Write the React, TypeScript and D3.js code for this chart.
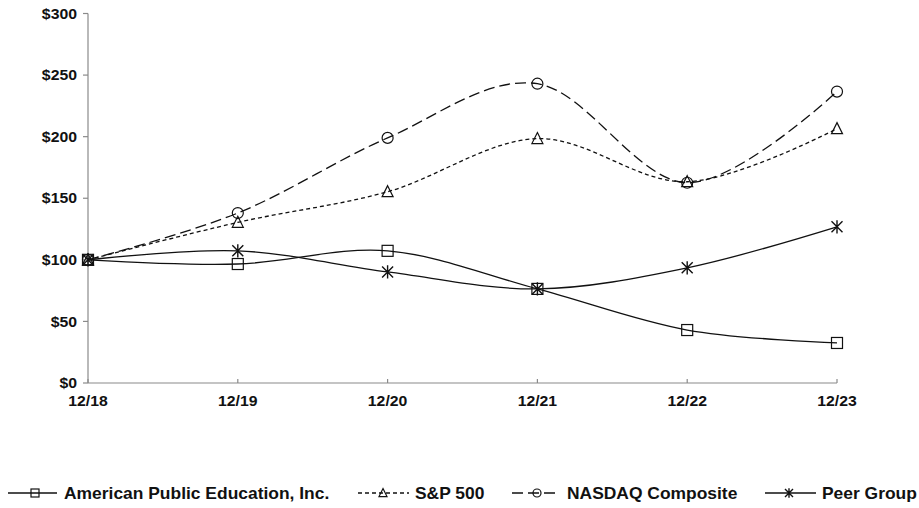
import React from 'react';
import * as d3 from 'd3';

const categories = ['12/18', '12/19', '12/20', '12/21', '12/22', '12/23'];
const apei = [100, 96.6, 107.3, 76.4, 43.0, 32.5];
const sp500 = [100, 130.4, 155.3, 198.4, 163.4, 206.5];
const nasdaq = [100, 138.0, 199.0, 243.0, 162.6, 236.6];
const peer = [100, 107.3, 90.2, 76.4, 93.5, 126.8];
const yTicks = [0, 50, 100, 150, 200, 250, 300];

const seriesNames = ['American Public Education, Inc.', 'S&P 500', 'NASDAQ Composite', 'Peer Group'];
const seriesValues = [apei, sp500, nasdaq, peer];

const W = 919;
const H = 508;
const FONT = '"Liberation Sans", Arial, sans-serif';
const STRETCH = 1.09;

type Style = { dash: string; marker: 'square' | 'triangle' | 'circle' | 'star' };
const styles: Style[] = [
  { dash: '', marker: 'square' },
  { dash: '4,3', marker: 'triangle' },
  { dash: '11,5', marker: 'circle' },
  { dash: '', marker: 'star' },
];

const legendLayout = [
  { x1: 8, x2: 57, mx: 35, tx: 64 },
  { x1: 358, x2: 409, mx: 383, tx: 415 },
  { x1: 512, x2: 560, mx: 537, tx: 567 },
  { x1: 765, x2: 816, mx: 789, tx: 822 },
];

function Marker({ kind, cx, cy, s }: { kind: Style['marker']; cx: number; cy: number; s: number }) {
  const common = { fill: 'none', stroke: '#111', strokeWidth: 1.2 };
  if (kind === 'square') return <rect x={cx - s} y={cy - s} width={2 * s} height={2 * s} {...common} />;
  if (kind === 'circle') return <circle cx={cx} cy={cy} r={s} {...common} />;
  if (kind === 'triangle') {
    const p = `M${cx},${cy - s * 1.1} L${cx + s},${cy + s * 0.9} L${cx - s},${cy + s * 0.9} Z`;
    return <path d={p} {...common} />;
  }
  const d = `M${cx - s},${cy - s}L${cx + s},${cy + s}M${cx - s},${cy + s}L${cx + s},${cy - s}M${cx},${cy - s * 1.2}L${cx},${cy + s * 1.2}`;
  return <path d={d} {...common} strokeWidth={1.4} />;
}

export default function App() {
  const x = d3.scalePoint<string>().domain(categories).range([88, 837]);
  const y = d3.scaleLinear().domain([0, 300]).range([383, 13.5]);
  const line = d3
    .line<number>()
    .x((_, i) => x(categories[i]) as number)
    .y((v) => y(v))
    .curve(d3.curveCardinal.tension(0));

  const textStyle = { fontFamily: FONT, fontWeight: 700, fill: '#111' } as const;

  return (
    <div style={{ position: 'absolute', left: 0, top: 0 }}>
      <svg width={W} height={H} style={{ display: 'block', background: '#fff' }}>
        <rect x={0} y={0} width={W} height={H} fill="#fff" />
        {/* axes */}
        <g stroke="#8a8a8a" strokeWidth={1.2} fill="none">
          <line x1={88} x2={88} y1={y(300)} y2={y(0)} />
          <line x1={88} x2={837} y1={y(0)} y2={y(0)} />
          {yTicks.map((t) => (
            <line key={t} x1={83} x2={88} y1={y(t)} y2={y(t)} />
          ))}
          {categories.map((c) => (
            <line key={c} x1={x(c)} x2={x(c)} y1={y(0) - 4} y2={y(0)} />
          ))}
        </g>
        {yTicks.map((t) => (
          <text
            key={t}
            transform={`translate(77,${y(t)}) scale(${STRETCH},1)`}
            textAnchor="end"
            dy="0.36em"
            fontSize={14.5}
            {...textStyle}
          >
            {`$${t}`}
          </text>
        ))}
        {categories.map((c) => (
          <text
            key={c}
            transform={`translate(${x(c)},406) scale(${STRETCH},1)`}
            textAnchor="middle"
            fontSize={14.5}
            {...textStyle}
          >
            {c}
          </text>
        ))}
        {/* lines */}
        {seriesValues.map((vals, si) => (
          <path
            key={si}
            d={line(vals) || ''}
            fill="none"
            stroke="#111"
            strokeWidth={1.3}
            strokeDasharray={styles[si].dash || undefined}
          />
        ))}
        {seriesValues.map((vals, si) =>
          vals.map((v, i) => (
            <Marker key={`${si}-${i}`} kind={styles[si].marker} cx={x(categories[i]) as number} cy={y(v)} s={5.5} />
          ))
        )}
        {/* legend */}
        {seriesNames.map((name, si) => {
          const L = legendLayout[si];
          return (
            <g key={name}>
              <line
                x1={L.x1}
                x2={L.x2}
                y1={493}
                y2={493}
                stroke="#111"
                strokeWidth={1.3}
                strokeDasharray={styles[si].dash || undefined}
              />
              <Marker kind={styles[si].marker} cx={L.mx} cy={493} s={4} />
              <text
                transform={`translate(${L.tx},498.5) scale(${STRETCH},1)`}
                fontSize={16}
                {...textStyle}
              >
                {name}
              </text>
            </g>
          );
        })}
      </svg>
    </div>
  );
}
